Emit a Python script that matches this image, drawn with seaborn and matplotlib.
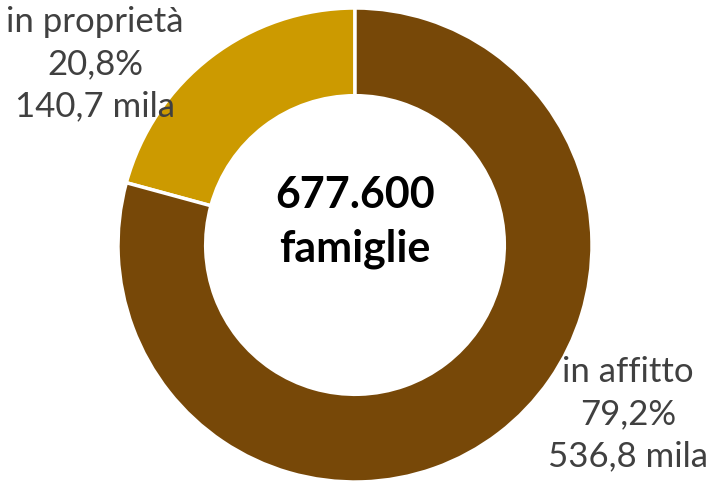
import matplotlib
matplotlib.use("Agg")
import matplotlib.pyplot as plt
import seaborn as sns

categories = ["in proprietà", "in affitto"]
percent_labels = ["20,8%", "79,2%"]
thousands_labels = ["140,7 mila", "536,8 mila"]
values = [140.7, 536.8]
center_lines = ["677.600", "famiglie"]
colors = ["#CC9A00", "#774808"]

sns.set_theme(style="white")
plt.rcParams['font.family'] = ['Lato', 'DejaVu Sans']

fig = plt.figure(figsize=(7.11, 4.86), dpi=100)
ax = fig.add_axes([0, 0, 1, 1])

cx, cy, R = 355, 486 - 245, 237
ax.pie(values, colors=sns.color_palette(colors), startangle=90, counterclock=True,
       center=(cx, cy), radius=R, frame=True,
       wedgeprops=dict(width=R * 0.37, edgecolor="white", linewidth=2.5))
ax.set_xlim(0, 711)
ax.set_ylim(0, 486)
ax.set_aspect("equal")
ax.axis("off")

label_pos = [(95, 486 - 64), (628, 486 - 414)]
for (x, y), c, p, t in zip(label_pos, categories, percent_labels, thousands_labels):
    ax.text(x, y, f"{c}\n{p}\n{t}", ha="center", va="center", fontsize=25,
            color="#404040", linespacing=1.38)

ax.text(cx, 486 - 222, "\n".join(center_lines), ha="center", va="center",
        fontsize=31, fontweight="bold", color="black", linespacing=1.42)

fig.savefig("out.png", dpi=100)
